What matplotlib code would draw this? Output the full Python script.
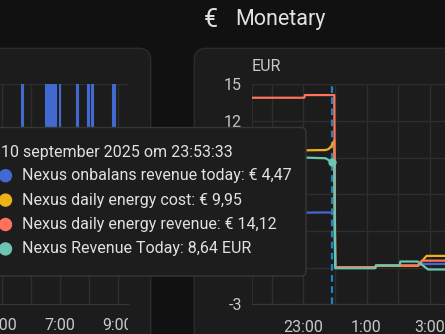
import matplotlib
matplotlib.use("Agg")
import matplotlib.pyplot as plt
from matplotlib.patches import FancyBboxPatch, Circle
from matplotlib.transforms import Bbox, TransformedBbox

plt.rcParams['font.family'] = ['Roboto', 'DejaVu Sans']

# ---- data -------------------------------------------------------------
# Monetary chart: hours since 00:00 on 10 september 2025
red_t = [21.37, 23.03, 23.05, 23.98, 24.01, 25.28, 25.30, 26.62, 26.75, 29.0]
red_v = [13.90, 13.90, 14.12, 14.12, 0.03, 0.03, 0.18, 0.18, 0.57, 0.57]

yellow_t = [21.37, 22.50, 23.10, 23.70, 23.80, 23.8925, 23.98, 24.01, 25.28, 25.30, 26.63, 26.90, 29.0]
yellow_v = [9.30, 9.45, 9.60, 9.62, 9.70, 9.95, 10.40, 0.03, 0.03, 0.15, 0.15, 0.96, 0.96]

blue_t = [21.37, 22.50, 23.10, 23.80, 23.8925, 23.98, 24.01, 25.28, 25.30, 26.63, 26.75, 29.0]
blue_v = [4.40, 4.45, 4.50, 4.52, 4.47, 4.47, 0.03, 0.03, 0.15, 0.15, 0.30, 0.30]

teal_t = [21.37, 22.50, 23.10, 23.70, 23.80, 23.8925, 23.98, 24.01, 25.28, 25.30, 26.05, 26.07, 26.62, 26.95, 29.0]
teal_v = [9.20, 9.10, 9.00, 8.95, 8.80, 8.64, 8.60, -0.05, -0.05, 0.18, 0.18, 0.50, 0.50, -0.15, -0.15]

cursor_t = 23 + 53 / 60 + 33 / 3600
y_ticks = [-3, 0, 3, 6, 9, 12, 15]

# Left card chart: spans (hours) where the series is high
left_on_start = [5.666, 6.483, 6.803, 6.955, 7.552, 7.941, 8.069, 8.793]
left_on_end = [5.734, 6.769, 6.852, 7.010, 7.621, 8.000, 8.128, 8.886]

# Tooltip content
tip_header = "10 september 2025 om 23:53:33"
tip_labels = ["Nexus onbalans revenue today: € 4,47",
              "Nexus daily energy cost: € 9,95",
              "Nexus daily energy revenue: € 14,12",
              "Nexus Revenue Today: 8,64 EUR"]

BLUE, YELLOW, RED, TEAL = "#4269d0", "#efb118", "#ff725c", "#6cc5b0"
tip_colors = [BLUE, YELLOW, RED, TEAL]

BG, CARD, CARD_EDGE = "#111111", "#1c1c1c", "#2c2c2c"
GRID, AXIS = "#2e2e2e", "#3a3a3a"
TXT, TICK = "#e1e1e1", "#c8c8c8"

# ---- figure -------------------------------------------------------------
W, H, DPI = 445, 334, 100
fig = plt.figure(figsize=(W / DPI, H / DPI), dpi=DPI, facecolor=BG)


def px_axes(x0, y0, x1, y1, z):
    """Axes placed by pixel box (y measured from the top)."""
    return fig.add_axes([x0 / W, (H - y1) / H, (x1 - x0) / W, (y1 - y0) / H], zorder=z)


# background layer: cards and heading
bg = fig.add_axes([0, 0, 1, 1], zorder=0)
bg.set_xlim(0, W)
bg.set_ylim(H, 0)
bg.axis("off")
for x0, x1 in [(-40, 150.7), (194.3, 700)]:
    bg.add_patch(FancyBboxPatch((x0, 48.3), x1 - x0, 400,
                                boxstyle="round,pad=0,rounding_size=12",
                                fc=CARD, ec=CARD_EDGE, lw=1))
bg.text(211, 20, "€", color=TXT, fontsize=18, ha="center", va="center")
bg.text(235.5, 20, "Monetary", color=TXT, fontsize=15.5, ha="left", va="center")

# ---- left card chart ------------------------------------------------------
la = px_axes(-60, 84.3, 127.7, 304.3, 1)
la.set_facecolor("none")
la.set_xlim(7 - 120 / 29, 7 + 67.7 / 29)
la.set_ylim(-0.2, 1.0)
for s0, s1 in zip(left_on_start, left_on_end):
    la.fill_between([s0, s1], 0, 1, color=BLUE, lw=0.8, ec=BLUE)
la.set_xticks([5, 6, 7, 8, 9])
la.set_xticklabels(["5:00", "", "7:00", "", "9:00"])
la.set_yticks([0, 1])
la.set_yticklabels([])
la.grid(True, color=GRID, lw=1)
la.set_axisbelow(True)
for s in ["top", "right", "left"]:
    la.spines[s].set_visible(False)
la.spines["bottom"].set_color(AXIS)
la.tick_params(length=0, colors=TICK, labelsize=11.5, pad=10, left=False)
clip = TransformedBbox(Bbox([[0, 0], [127.7, H]]), bg.transData)
for lbl in la.get_xticklabels():
    lbl.set_clip_box(clip)
    lbl.set_clip_on(True)

# ---- monetary chart --------------------------------------------------------
ax = px_axes(251.7, 84.3, 700, 304.3, 1)
ax.set_facecolor("none")
ax.set_xlim(23 - 51.6 / 31.6, 23 + (700 - 303.3) / 31.6)
ax.set_ylim(-3, 15)
ax.set_yticks(y_ticks)
ax.set_yticklabels([str(v) for v in y_ticks])
hours = list(range(22, 36))
ax.set_xticks(hours)
ax.set_xticklabels([f"{h % 24}:00" if h % 2 == 1 else "" for h in hours])
ax.grid(True, color=GRID, lw=1)
ax.set_axisbelow(True)
for s in ["top", "right"]:
    ax.spines[s].set_visible(False)
ax.spines["left"].set_color(GRID)
ax.spines["bottom"].set_color(AXIS)
ax.tick_params(length=0, colors=TICK, labelsize=11.5)
ax.tick_params(axis="x", pad=11)
ax.tick_params(axis="y", pad=7)
ax.text(0.0, 1.045, "EUR", transform=ax.transAxes, color=TICK, fontsize=11.5,
        ha="left", va="bottom")

ax.axvline(cursor_t, color="#1a86c4", lw=1.6, ls=(0, (3, 2)), zorder=2)
ax.plot(blue_t, blue_v, color=BLUE, lw=1.6, zorder=3)
ax.plot(yellow_t, yellow_v, color=YELLOW, lw=1.6, zorder=3)
ax.plot(red_t, red_v, color=RED, lw=1.6, zorder=3)
ax.plot(teal_t, teal_v, color=TEAL, lw=1.6, zorder=3)
ax.plot([cursor_t], [8.64], "o", color=TEAL, ms=5, zorder=4)

# ---- tooltip ---------------------------------------------------------------
ov = fig.add_axes([0, 0, 1, 1], zorder=5)
ov.set_xlim(0, W)
ov.set_ylim(H, 0)
ov.axis("off")
ov.add_patch(FancyBboxPatch((-20, 127.5), 326, 148.5,
                            boxstyle="round,pad=0,rounding_size=5",
                            fc="#1d1d1d", ec="#363636", lw=1))
ov.text(1, 152.3, tip_header, color=TXT, fontsize=11.5, ha="left", va="center")
for i, (lab, col) in enumerate(zip(tip_labels, tip_colors)):
    yy = 175.7 + 24.4 * i
    ov.add_patch(Circle((5.5, yy), 6, color=col))
    ov.text(21.7, yy, lab, color=TXT, fontsize=11.5, ha="left", va="center")

fig.savefig("out.png", dpi=DPI, facecolor=BG)
